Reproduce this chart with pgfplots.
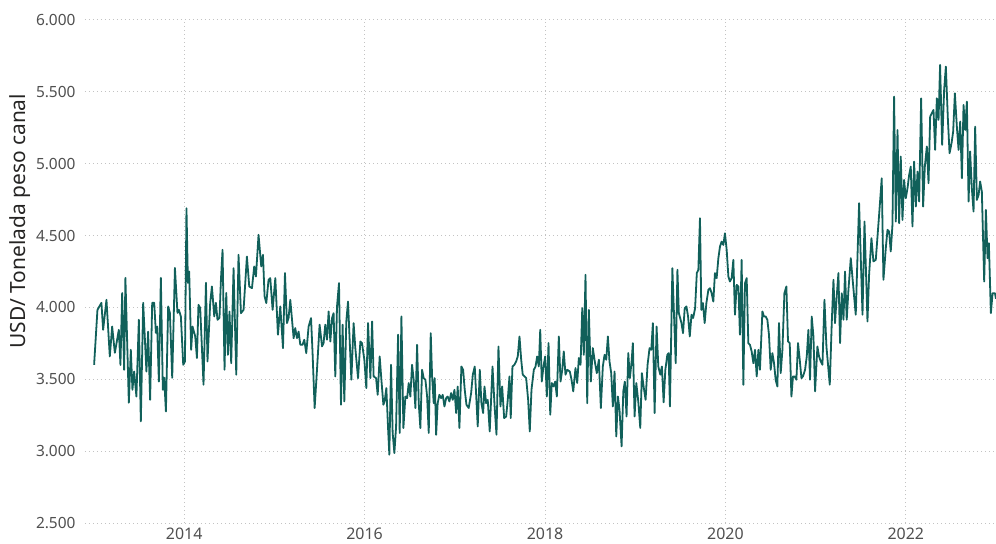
\documentclass[border=0pt]{standalone}
\usepackage{fontspec}
\setmainfont{Noto Sans}
\usepackage{pgfplots}
\pgfplotsset{compat=1.18}
\definecolor{linecol}{RGB}{17,96,90}
\definecolor{gridcol}{RGB}{195,195,195}
\definecolor{tickcol}{RGB}{80,80,80}
\definecolor{labcol}{RGB}{37,36,35}
\begin{document}
\begin{tikzpicture}
\path[use as bounding box] (-85bp,-21bp) rectangle (911bp,523bp);
\begin{axis}[
  scale only axis,
  width=911bp, height=503bp,
  xmin=2012.90, xmax=2023.0,
  ymin=2500, ymax=6000,
  axis line style={draw=none},
  major tick length=0pt,
  xtick={2014,2016,2018,2020,2022},
  xticklabels={2014,2016,2018,2020,2022},
  ytick={2500,3000,3500,4000,4500,5000,5500,6000},
  grid=major,
  major grid style={gridcol, line width=1bp, dash pattern=on 1bp off 3bp},
  /pgf/number format/.cd, 1000 sep={.}, assume math mode=true,
  /pgfplots/.cd,
  yticklabel style={font=\fontsize{15.5}{18}\selectfont, text=tickcol, anchor=east, xshift=-6bp},
  xticklabel style={font=\fontsize{16}{18}\selectfont, text=tickcol, yshift=-1bp},
  ylabel={USD/ Tonelada peso canal},
  ylabel style={font=\fontsize{21}{23}\selectfont, text=labcol, at={(axis description cs:-0.0715,0.600)}, anchor=center},
  clip=true,
]
\addplot[linecol, line width=1.8bp, line join=round] table {
2013.001 3601
2013.038 3983
2013.082 4032
2013.101 3844
2013.138 4053
2013.175 3659
2013.201 3867
2013.231 3684
2013.275 3844
2013.293 3600
2013.312 4100
2013.334 3566
2013.348 4206
2013.386 3337
2013.408 3705
2013.426 3427
2013.445 3554
2013.470 3380
2013.497 3914
2013.519 3207
2013.545 4032
2013.581 3554
2013.600 3832
2013.622 3357
2013.645 4032
2013.667 4032
2013.686 3823
2013.700 3867
2013.719 3484
2013.741 4206
2013.763 3427
2013.778 3510
2013.797 3276
2013.822 4007
2013.841 3962
2013.867 3510
2013.897 4275
2013.925 3962
2013.941 3983
2013.963 3937
2013.989 3601
2014.008 3624
2014.025 4690
2014.041 4171
2014.055 4250
2014.077 3705
2014.092 3867
2014.122 3798
2014.141 3648
2014.158 4018
2014.177 3997
2014.214 3462
2014.241 4171
2014.258 3624
2014.288 4032
2014.307 4146
2014.333 3937
2014.351 4032
2014.369 3914
2014.391 3928
2014.407 4192
2014.425 4401
2014.447 3566
2014.466 4101
2014.485 3670
2014.502 3972
2014.521 3612
2014.547 4273
2014.577 3532
2014.602 4366
2014.629 3960
2014.658 3983
2014.695 4354
2014.721 4146
2014.751 4134
2014.776 4285
2014.795 4215
2014.824 4505
2014.854 4285
2014.873 4366
2014.891 4077
2014.910 4030
2014.935 4192
2014.954 4204
2014.980 3983
2015.010 4204
2015.039 3810
2015.065 4007
2015.095 3717
2015.117 4239
2015.139 3891
2015.157 3926
2015.176 4053
2015.213 3786
2015.231 3856
2015.250 3786
2015.268 3832
2015.287 3740
2015.312 3740
2015.331 3775
2015.353 3682
2015.379 3867
2015.406 3926
2015.423 3682
2015.446 3300
2015.472 3566
2015.501 3880
2015.528 3729
2015.545 3752
2015.564 3880
2015.583 3775
2015.601 3972
2015.620 3763
2015.639 3926
2015.656 3960
2015.675 3520
2015.694 4007
2015.716 4169
2015.738 3323
2015.756 3880
2015.775 3346
2015.797 3902
2015.816 4041
2015.853 3497
2015.878 3891
2015.897 3717
2015.927 3508
2015.953 3763
2015.971 3752
2015.997 3636
2016.019 3439
2016.038 3891
2016.064 3508
2016.083 3902
2016.100 3520
2016.127 3508
2016.145 3392
2016.167 3659
2016.186 3497
2016.208 3323
2016.222 3346
2016.241 3439
2016.260 3161
2016.274 2975
2016.293 3601
2016.311 3126
2016.330 2987
2016.349 3172
2016.371 3810
2016.389 3126
2016.408 3937
2016.430 3161
2016.452 3380
2016.471 3369
2016.489 3474
2016.507 3380
2016.526 3601
2016.544 3497
2016.563 3300
2016.582 3740
2016.600 3334
2016.618 3161
2016.637 3566
2016.655 3508
2016.674 3497
2016.693 3380
2016.711 3126
2016.733 3821
2016.748 3520
2016.766 3334
2016.777 3508
2016.793 3114
2016.810 3334
2016.829 3392
2016.848 3369
2016.866 3392
2016.885 3311
2016.904 3369
2016.921 3380
2016.940 3346
2016.959 3404
2016.977 3357
2016.996 3427
2017.015 3265
2017.032 3450
2017.051 3161
2017.073 3589
2017.092 3566
2017.110 3427
2017.129 3323
2017.154 3300
2017.181 3404
2017.199 3530
2017.221 3589
2017.254 3172
2017.277 3566
2017.295 3334
2017.314 3265
2017.329 3450
2017.347 3334
2017.365 3357
2017.387 3137
2017.418 3589
2017.440 3323
2017.462 3114
2017.484 3728
2017.506 3311
2017.525 3450
2017.547 3230
2017.569 3241
2017.587 3357
2017.606 3520
2017.620 3230
2017.639 3589
2017.661 3601
2017.680 3624
2017.698 3659
2017.717 3798
2017.736 3636
2017.753 3532
2017.772 3520
2017.791 3508
2017.813 3357
2017.831 3137
2017.850 3427
2017.876 3566
2017.895 3589
2017.913 3659
2017.931 3589
2017.947 3844
2017.964 3484
2017.983 3589
2018.002 3659
2018.020 3380
2018.039 3752
2018.058 3253
2018.075 3474
2018.094 3450
2018.113 3484
2018.131 3380
2018.153 3798
2018.172 3484
2018.191 3566
2018.208 3694
2018.227 3532
2018.246 3566
2018.275 3554
2018.294 3497
2018.313 3416
2018.338 3578
2018.357 3474
2018.375 3648
2018.394 3601
2018.413 3995
2018.430 3670
2018.449 4227
2018.468 3334
2018.486 3983
2018.508 3484
2018.530 3717
2018.552 3624
2018.574 3543
2018.597 3636
2018.619 3300
2018.641 3589
2018.660 3670
2018.679 3636
2018.697 3798
2018.715 3624
2018.734 3543
2018.752 3311
2018.771 3554
2018.790 3102
2018.808 3380
2018.826 3288
2018.849 3033
2018.868 3416
2018.885 3484
2018.904 3241
2018.923 3682
2018.941 3508
2018.960 3624
2018.974 3752
2018.993 3241
2019.012 3474
2019.034 3346
2019.056 3161
2019.074 3543
2019.093 3450
2019.115 3357
2019.137 3601
2019.159 3717
2019.178 3705
2019.196 3891
2019.215 3265
2019.237 3867
2019.256 3589
2019.278 3532
2019.296 3589
2019.315 3340
2019.334 3566
2019.356 3670
2019.370 3682
2019.385 3311
2019.412 4273
2019.449 3612
2019.468 4262
2019.484 3960
2019.513 3891
2019.530 3821
2019.549 3995
2019.568 4007
2019.586 3937
2019.605 3798
2019.624 3949
2019.642 3926
2019.664 3995
2019.683 4239
2019.700 4262
2019.718 4621
2019.733 3983
2019.751 4030
2019.770 3891
2019.789 4030
2019.811 4122
2019.829 4134
2019.847 4099
2019.866 4041
2019.884 4239
2019.903 4204
2019.922 4343
2019.940 4424
2019.958 4458
2019.977 4435
2019.995 4516
2020.014 4401
2020.033 4215
2020.050 4180
2020.069 4204
2020.088 4331
2020.106 3949
2020.125 4157
2020.144 4146
2020.161 3810
2020.180 4331
2020.199 3462
2020.217 4169
2020.236 4204
2020.254 3752
2020.272 3740
2020.291 3694
2020.310 3612
2020.328 3705
2020.347 3520
2020.366 3705
2020.383 3566
2020.410 3972
2020.428 3937
2020.447 3937
2020.465 3914
2020.483 3810
2020.502 3566
2020.521 3682
2020.539 3612
2020.557 3497
2020.576 3450
2020.594 3891
2020.613 3543
2020.632 3705
2020.654 4099
2020.676 4146
2020.694 3763
2020.713 3752
2020.732 3380
2020.749 3520
2020.768 3520
2020.787 3497
2020.805 3752
2020.824 3636
2020.843 3508
2020.860 3520
2020.883 3566
2020.902 3659
2020.920 3844
2020.938 3497
2020.957 3937
2020.976 3798
2020.994 3416
2021.020 3728
2021.038 3659
2021.057 3624
2021.076 3601
2021.098 4053
2021.120 3728
2021.157 3462
2021.179 3891
2021.198 4192
2021.215 3891
2021.234 4076
2021.253 4239
2021.271 3752
2021.290 4099
2021.309 3914
2021.326 4250
2021.345 3914
2021.364 4122
2021.390 4343
2021.418 4140
2021.445 3949
2021.482 4725
2021.520 3949
2021.542 4597
2021.575 3902
2021.593 4227
2021.619 4482
2021.641 4320
2021.667 4331
2021.704 4644
2021.733 4899
2021.752 4192
2021.778 4412
2021.797 4540
2021.815 4529
2021.833 4389
2021.852 4575
2021.870 5467
2021.889 4597
2021.908 5235
2021.926 4586
2021.944 5050
2021.963 4609
2021.981 4887
2022.000 4760
2022.019 4830
2022.037 4922
2022.055 4980
2022.074 4563
2022.092 5015
2022.111 4702
2022.130 4945
2022.148 4737
2022.170 5455
2022.192 4702
2022.211 4980
2022.233 5120
2022.252 4864
2022.270 5328
2022.288 5351
2022.307 5374
2022.325 5096
2022.344 5455
2022.363 5305
2022.380 5687
2022.403 5131
2022.425 5513
2022.444 5676
2022.466 5316
2022.485 5073
2022.507 5143
2022.525 5223
2022.544 5490
2022.566 5258
2022.585 5096
2022.603 5293
2022.622 4899
2022.640 5409
2022.658 5235
2022.677 5432
2022.696 4737
2022.713 5085
2022.732 4830
2022.751 4667
2022.769 5258
2022.788 4748
2022.807 4783
2022.824 4876
2022.843 4806
2022.869 4180
2022.888 4679
2022.906 4343
2022.921 4447
2022.943 3960
2022.962 4099
2022.988 4099
2023.000 4060
};
\end{axis}
\end{tikzpicture}
\end{document}
